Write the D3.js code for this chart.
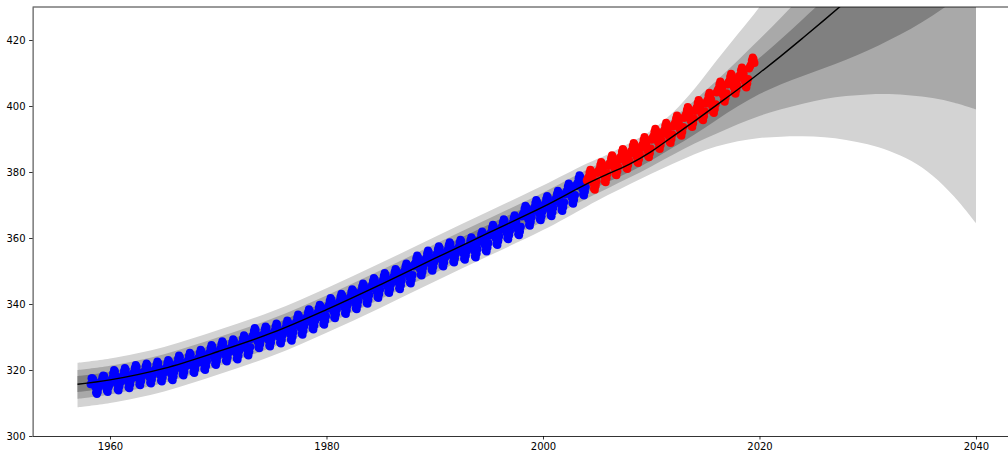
<!DOCTYPE html>
<html>
<head>
<meta charset="utf-8">
<script src="https://cdn.jsdelivr.net/npm/d3@7/dist/d3.min.js"></script>
<style>
  html, body { margin: 0; padding: 0; background: #fff; overflow: hidden; }
  svg { display: block; font-family: "DejaVu Sans", sans-serif; }
</style>
</head>
<body>
<div id="chart"></div>
<script>
// prediction grid (decimal years) and fitted mean
const bandYears = [1957, 1960, 1965, 1970, 1975, 1980, 1985, 1990, 1995, 2000, 2004, 2006, 2008, 2010,
  2012, 2014, 2016, 2018, 2020, 2022, 2024, 2026, 2028, 2030, 2032, 2034, 2036, 2038, 2040];
const meanLine = [315.7, 317.0, 320.5, 325.6, 331.3, 338.3, 345.9, 353.8, 361.6, 369.4, 376.3, 379.4, 382.4, 386.2,
  390.8, 395.4, 400.2, 405.0, 410.0, 415.2, 420.6, 426.1, 431.7, 437.4, 443.2, 449.1, 455.1, 461.2, 467.4];

// inner interval (gray)
const innerLo = [313.3, 314.6, 318.1, 323.2, 328.9, 335.9, 343.5, 351.4, 359.2, 367.0, 373.9, 377.0, 380.0, 383.5,
  387.4, 391.4, 395.7, 399.9, 403.6, 406.6, 409.1, 411.5, 414.0, 416.8, 420.0, 423.4, 427.4, 432.0, 437.0];
const innerHi = [318.2, 319.5, 323.0, 328.1, 333.8, 340.8, 348.4, 356.3, 364.1, 371.9, 378.8, 381.9, 385.0, 388.9,
  393.7, 398.6, 403.8, 409.1, 414.6, 420.3, 426.3, 432.4, 438.6, 445.0, 451.5, 458.0, 464.5, 471.0, 478.0];
// middle interval (darkgray)
const midLo = [311.3, 312.6, 316.1, 321.2, 326.9, 333.9, 341.5, 349.4, 357.2, 365.0, 371.9, 375.1, 378.3, 381.7,
  385.2, 388.6, 391.6, 394.5, 397.0, 399.0, 400.7, 402.1, 403.0, 403.5, 403.6, 403.2, 402.4, 401.0, 399.0];
const midHi = [320.0, 321.3, 324.8, 329.9, 335.6, 342.6, 350.2, 358.1, 365.9, 373.7, 380.6, 383.8, 387.0, 391.1,
  396.3, 401.7, 407.6, 413.8, 420.2, 426.8, 433.8, 441.0, 448.5, 456.0, 464.0, 472.0, 480.0, 488.0, 496.0];
// outer interval (lightgray)
const outerLo = [308.7, 310.0, 313.5, 318.6, 324.3, 331.3, 338.9, 346.8, 354.6, 362.4, 369.5, 373.0, 376.3, 379.5,
  382.5, 385.4, 387.7, 389.3, 390.3, 390.7, 390.8, 390.5, 389.7, 388.4, 386.4, 383.4, 378.9, 372.5, 364.5];
const outerHi = [322.2, 323.5, 327.0, 332.1, 337.8, 344.8, 352.4, 360.3, 368.1, 375.9, 382.5, 385.4, 388.8, 392.6,
  398.0, 405.2, 413.6, 421.8, 430.0, 440.0, 451.0, 462.0, 474.0, 487.0, 500.0, 514.0, 528.0, 543.0, 559.0];

// monthly CO2 (ppm), training part: Mar 1958 - Dec 2003
const trainStart = [1958, 3];
const trainCO2 = [
  315.7, 317.5, 317.5, 317.1, 315.9, 314.9, 313.2, 312.7, 313.3, 314.7,
  315.6, 316.4, 316.7, 317.7, 318.3, 318.2, 316.5, 314.8, 313.8, 313.3, 314.8, 315.6,
  316.4, 317.0, 317.6, 319.0, 320.0, 319.6, 318.2, 315.9, 314.2, 313.8, 315.0, 316.2,
  317.3, 317.9, 318.4, 319.7, 320.6, 320.1, 318.6, 316.5, 314.8, 314.5, 315.7, 317.1,
  318.2, 318.8, 319.3, 320.6, 321.5, 321.0, 319.5, 317.4, 315.7, 315.4, 316.6, 318.0,
  318.7, 319.3, 319.8, 321.1, 322.0, 321.5, 320.0, 317.9, 316.2, 315.9, 317.1, 318.5,
  319.3, 319.9, 320.4, 321.7, 322.6, 322.1, 320.6, 318.5, 316.8, 316.5, 317.7, 319.1,
  319.7, 320.3, 320.8, 322.1, 323.0, 322.5, 321.0, 318.9, 317.2, 316.9, 318.1, 319.5,
  321.1, 321.7, 322.2, 323.5, 324.4, 323.9, 322.4, 320.3, 318.6, 318.3, 319.5, 320.9,
  321.9, 322.5, 323.0, 324.3, 325.2, 324.7, 323.2, 321.1, 319.4, 319.1, 320.3, 321.7,
  322.8, 323.4, 323.9, 325.2, 326.1, 325.6, 324.1, 322.0, 320.3, 320.0, 321.2, 322.6,
  324.3, 324.9, 325.4, 326.7, 327.6, 327.1, 325.6, 323.5, 321.8, 321.5, 322.7, 324.1,
  325.4, 326.0, 326.5, 327.8, 328.7, 328.2, 326.7, 324.6, 322.9, 322.6, 323.8, 325.2,
  326.0, 326.6, 327.1, 328.4, 329.3, 328.8, 327.3, 325.2, 323.5, 323.2, 324.4, 325.8,
  327.2, 327.8, 328.3, 329.6, 330.5, 330.0, 328.5, 326.4, 324.7, 324.4, 325.6, 327.0,
  329.4, 330.0, 330.5, 331.8, 332.7, 332.2, 330.7, 328.6, 326.9, 326.6, 327.8, 329.2,
  329.9, 330.5, 331.0, 332.3, 333.2, 332.7, 331.2, 329.1, 327.4, 327.1, 328.3, 329.7,
  330.8, 331.4, 331.9, 333.2, 334.1, 333.6, 332.1, 330.0, 328.3, 328.0, 329.2, 330.6,
  331.7, 332.3, 332.8, 334.1, 335.0, 334.5, 333.0, 330.9, 329.2, 328.9, 330.1, 331.5,
  333.5, 334.1, 334.6, 335.9, 336.8, 336.3, 334.8, 332.7, 331.0, 330.7, 331.9, 333.3,
  335.1, 335.7, 336.2, 337.5, 338.4, 337.9, 336.4, 334.3, 332.6, 332.3, 333.5, 334.9,
  336.5, 337.1, 337.6, 338.9, 339.8, 339.3, 337.8, 335.7, 334.0, 333.7, 334.9, 336.3,
  338.5, 339.1, 339.6, 340.9, 341.8, 341.3, 339.8, 337.7, 336.0, 335.7, 336.9, 338.3,
  339.8, 340.4, 340.9, 342.2, 343.1, 342.6, 341.1, 339.0, 337.3, 337.0, 338.2, 339.6,
  341.2, 341.8, 342.3, 343.6, 344.5, 344.0, 342.5, 340.4, 338.7, 338.4, 339.6, 341.0,
  342.9, 343.5, 344.0, 345.3, 346.2, 345.7, 344.2, 342.1, 340.4, 340.1, 341.3, 342.7,
  344.6, 345.2, 345.7, 347.0, 347.9, 347.4, 345.9, 343.8, 342.1, 341.8, 343.0, 344.4,
  346.1, 346.7, 347.2, 348.5, 349.4, 348.9, 347.4, 345.3, 343.6, 343.3, 344.5, 345.9,
  347.3, 347.9, 348.4, 349.7, 350.6, 350.1, 348.6, 346.5, 344.8, 344.5, 345.7, 347.1,
  349.0, 349.6, 350.1, 351.4, 352.3, 351.8, 350.3, 348.2, 346.5, 346.2, 347.4, 348.8,
  351.4, 352.0, 352.5, 353.8, 354.7, 354.2, 352.7, 350.6, 348.9, 348.6, 349.8, 351.2,
  352.9, 353.5, 354.0, 355.3, 356.2, 355.7, 354.2, 352.1, 350.4, 350.1, 351.3, 352.7,
  354.2, 354.8, 355.3, 356.6, 357.5, 357.0, 355.5, 353.4, 351.7, 351.4, 352.6, 354.0,
  355.4, 356.0, 356.5, 357.8, 358.7, 358.2, 356.7, 354.6, 352.9, 352.6, 353.8, 355.2,
  356.2, 356.8, 357.3, 358.6, 359.5, 359.0, 357.5, 355.4, 353.7, 353.4, 354.6, 356.0,
  356.9, 357.5, 358.0, 359.3, 360.2, 359.7, 358.2, 356.1, 354.4, 354.1, 355.3, 356.7,
  358.7, 359.3, 359.8, 361.1, 362.0, 361.5, 360.0, 357.9, 356.2, 355.9, 357.1, 358.5,
  360.7, 361.3, 361.8, 363.1, 364.0, 363.5, 362.0, 359.9, 358.2, 357.9, 359.1, 360.5,
  362.4, 363.0, 363.5, 364.8, 365.7, 365.2, 363.7, 361.6, 359.9, 359.6, 360.8, 362.2,
  363.6, 364.2, 364.7, 366.0, 366.9, 366.4, 364.9, 362.8, 361.1, 360.8, 362.0, 363.4,
  366.5, 367.1, 367.6, 368.9, 369.8, 369.3, 367.8, 365.7, 364.0, 363.7, 364.9, 366.3,
  368.2, 368.8, 369.3, 370.6, 371.5, 371.0, 369.5, 367.4, 365.7, 365.4, 366.6, 368.0,
  369.4, 370.0, 370.5, 371.8, 372.7, 372.2, 370.7, 368.6, 366.9, 366.6, 367.8, 369.2,
  371.0, 371.6, 372.1, 373.4, 374.3, 373.8, 372.3, 370.2, 368.5, 368.2, 369.4, 370.8,
  373.2, 373.8, 374.3, 375.6, 376.5, 376.0, 374.5, 372.4, 370.7, 370.4, 371.6, 373.0,
  375.7, 376.3, 376.8, 378.1, 379.0, 378.5, 377.0, 374.9, 373.2, 372.9, 374.1, 375.5
];

// monthly CO2 (ppm), test part: Jan 2004 - Jul 2019
const testStart = [2004, 1];
const testCO2 = [
  377.4, 378.0, 378.5, 379.8, 380.7, 380.2, 378.7, 376.6, 374.9, 374.6, 375.8, 377.2,
  379.7, 380.3, 380.8, 382.1, 383.0, 382.5, 381.0, 378.9, 377.2, 376.9, 378.1, 379.5,
  381.8, 382.4, 382.9, 384.2, 385.1, 384.6, 383.1, 381.0, 379.3, 379.0, 380.2, 381.6,
  383.7, 384.3, 384.8, 386.1, 387.0, 386.5, 385.0, 382.9, 381.2, 380.9, 382.1, 383.5,
  385.5, 386.1, 386.6, 387.9, 388.8, 388.3, 386.8, 384.7, 383.0, 382.7, 383.9, 385.3,
  387.3, 387.9, 388.4, 389.7, 390.6, 390.1, 388.6, 386.5, 384.8, 384.5, 385.7, 387.1,
  389.8, 390.4, 390.9, 392.2, 393.1, 392.6, 391.1, 389.0, 387.3, 387.0, 388.2, 389.6,
  391.6, 392.2, 392.7, 394.0, 394.9, 394.4, 392.9, 390.8, 389.1, 388.8, 390.0, 391.4,
  393.8, 394.4, 394.9, 396.2, 397.1, 396.6, 395.1, 393.0, 391.3, 391.0, 392.2, 393.6,
  396.4, 397.0, 397.5, 398.8, 399.7, 399.2, 397.7, 395.6, 393.9, 393.6, 394.8, 396.2,
  398.5, 399.1, 399.6, 400.9, 401.8, 401.3, 399.8, 397.7, 396.0, 395.7, 396.9, 398.3,
  400.7, 401.3, 401.8, 403.1, 404.0, 403.5, 402.0, 399.9, 398.2, 397.9, 399.1, 400.5,
  404.1, 404.7, 405.2, 406.5, 407.4, 406.9, 405.4, 403.3, 401.6, 401.3, 402.5, 403.9,
  406.5, 407.1, 407.6, 408.9, 409.8, 409.3, 407.8, 405.7, 404.0, 403.7, 404.9, 406.3,
  408.4, 409.0, 409.5, 410.8, 411.7, 411.2, 409.7, 407.6, 405.9, 405.6, 406.8, 408.2,
  411.4, 412.0, 412.5, 413.8, 414.7, 414.2, 413.0
];

const xTicks = [1960, 1980, 2000, 2020, 2040];
const yTicks = [300, 320, 340, 360, 380, 400, 420];

const width = 1008, height = 456;
const plot = {left: 32.6, top: 7, right: 1020.9, bottom: 436};

const svg = d3.select('#chart')
  .append('svg')
  .attr('width', width)
  .attr('height', height);

const x = d3.scaleLinear().domain([1952.85, 2044.15]).range([plot.left, plot.right]);
const y = d3.scaleLinear().domain([300, 430]).range([plot.bottom, plot.top]);

svg.append('clipPath')
  .attr('id', 'clip')
  .append('rect')
  .attr('x', plot.left)
  .attr('y', plot.top)
  .attr('width', plot.right - plot.left)
  .attr('height', plot.bottom - plot.top);

const g = svg.append('g').attr('clip-path', 'url(#clip)');

const bands = [
  {lo: outerLo, hi: outerHi, color: '#d3d3d3'},
  {lo: midLo, hi: midHi, color: '#a9a9a9'},
  {lo: innerLo, hi: innerHi, color: '#808080'}
];

const smooth = d3.curveCatmullRom.alpha(0.5);

bands.forEach(b => {
  const area = d3.area()
    .x((d, i) => x(bandYears[i]))
    .y0((d, i) => y(b.lo[i]))
    .y1((d, i) => y(b.hi[i]))
    .curve(smooth);
  g.append('path')
    .datum(bandYears)
    .attr('d', area)
    .attr('fill', b.color);
});

// month index -> decimal year (mid-month)
const toYear = (start, i) => start[0] + (start[1] - 1 + i + 0.5) / 12;

g.append('g')
  .selectAll('circle')
  .data(trainCO2)
  .enter()
  .append('circle')
  .attr('cx', (d, i) => x(toYear(trainStart, i)))
  .attr('cy', d => y(d))
  .attr('r', 4)
  .attr('fill', '#0000ff');

g.append('g')
  .selectAll('circle')
  .data(testCO2)
  .enter()
  .append('circle')
  .attr('cx', (d, i) => x(toYear(testStart, i)))
  .attr('cy', d => y(d))
  .attr('r', 4)
  .attr('fill', '#ff0000');

const line = d3.line()
  .x((d, i) => x(bandYears[i]))
  .y(d => y(d))
  .curve(smooth);

g.append('path')
  .datum(meanLine)
  .attr('d', line)
  .attr('fill', 'none')
  .attr('stroke', '#000')
  .attr('stroke-width', 1.4);

// axes
const xAxis = svg.append('g')
  .attr('transform', `translate(0,${plot.bottom})`)
  .call(d3.axisBottom(x).tickValues(xTicks).tickFormat(d3.format('d')).tickSize(3.5).tickPadding(3.5).tickSizeOuter(0));
const yAxis = svg.append('g')
  .attr('transform', `translate(${plot.left},0)`)
  .call(d3.axisLeft(y).tickValues(yTicks).tickSize(3.5).tickPadding(3.5).tickSizeOuter(0));

[xAxis, yAxis].forEach(a => {
  a.selectAll('.domain').attr('stroke', '#000').attr('stroke-width', 0.8);
  a.selectAll('.tick line').attr('stroke', '#000').attr('stroke-width', 0.8);
  a.selectAll('.tick text').attr('fill', '#000').attr('font-size', 10)
    .attr('font-family', '"DejaVu Sans", sans-serif');
});

// top and right spines
svg.append('line')
  .attr('x1', plot.left).attr('x2', plot.right)
  .attr('y1', plot.top).attr('y2', plot.top)
  .attr('stroke', '#000').attr('stroke-width', 0.8);
svg.append('line')
  .attr('x1', plot.right).attr('x2', plot.right)
  .attr('y1', plot.top).attr('y2', plot.bottom)
  .attr('stroke', '#000').attr('stroke-width', 0.8);
</script>
</body>
</html>
